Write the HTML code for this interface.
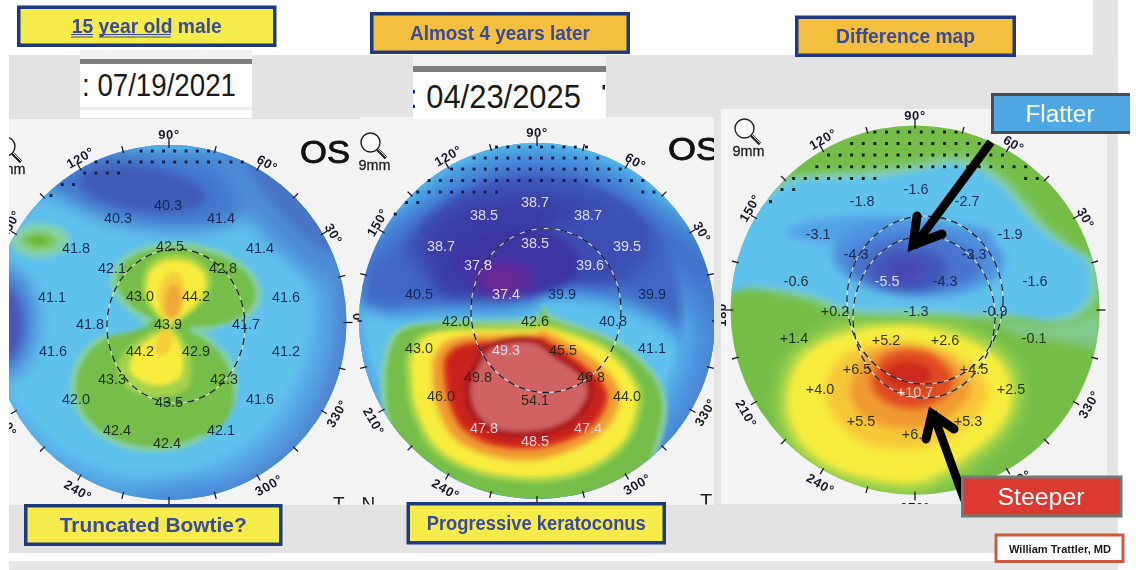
<!DOCTYPE html>
<html><head><meta charset="utf-8"><title>Topography</title>
<style>
html,body{margin:0;padding:0;background:#fff;}
body{width:1136px;height:570px;overflow:hidden;font-family:"Liberation Sans",sans-serif;}
svg{display:block;font-family:"Liberation Sans",sans-serif;}
</style></head><body>
<svg width="1136" height="570" viewBox="0 0 1136 570">
<rect x="0" y="0" width="1136" height="570" fill="#ffffff"/>
<rect x="9" y="55" width="1109" height="64" fill="#e3e3e3"/>
<rect x="1093" y="0" width="25" height="56" fill="#e4e4e4"/>
<rect x="9" y="108" width="1109" height="445" fill="#e3e3e3"/>
<rect x="9" y="561" width="1109" height="9" fill="#e6e6e6"/>
<rect x="9" y="119" width="705" height="386" fill="#f3f3f3"/>
<rect x="360" y="117" width="354" height="4" fill="#f3f3f3"/>
<rect x="721" y="109" width="386" height="395" fill="#f3f3f3"/>
<rect x="80" y="50" width="172" height="68" fill="#ffffff"/>
<rect x="80" y="50" width="172" height="9" fill="#f1f1f1"/>
<rect x="80" y="59" width="172" height="5" fill="#7d7d7d"/>
<rect x="80" y="107" width="172" height="3" fill="#eeeeee"/>
<text x="82" y="96.5" font-size="28.5" fill="#1a1a1a" textLength="154" lengthAdjust="spacingAndGlyphs" transform="translate(0,96.5) scale(1,1.1) translate(0,-96.5)">: 07/19/2021</text>
<rect x="413" y="54" width="193" height="65" fill="#ffffff"/>
<rect x="413" y="54" width="193" height="12" fill="#f1f1f1"/>
<rect x="413" y="66" width="193" height="6" fill="#7d7d7d"/>
<clipPath id="cd2"><rect x="413" y="54" width="193" height="65"/></clipPath>
<g clip-path="url(#cd2)"><text x="409" y="108" font-size="31" fill="#1a1a1a" textLength="172" lengthAdjust="spacingAndGlyphs" transform="translate(0,108) scale(1,1.1) translate(0,-108)">: 04/23/2025</text><rect x="602.5" y="85" width="2.5" height="4.5" fill="#222"/></g>
<defs><clipPath id="p1"><rect x="9" y="119" width="352" height="386"/></clipPath><clipPath id="c1"><circle cx="169" cy="322.5" r="177.5"/></clipPath><radialGradient id="rg1" gradientUnits="userSpaceOnUse" cx="150" cy="316" r="205"><stop offset="0.72" stop-color="#5fc2ec" stop-opacity="0"/><stop offset="0.80" stop-color="#5ab2e8"/><stop offset="0.87" stop-color="#549ee0"/><stop offset="0.93" stop-color="#508cd6"/><stop offset="1" stop-color="#4c7ccc"/></radialGradient><filter id="b2" x="-10%" y="-10%" width="120%" height="120%"><feGaussianBlur stdDeviation="2.2"/></filter><filter id="b5" x="-20%" y="-20%" width="140%" height="140%"><feGaussianBlur stdDeviation="5"/></filter><filter id="b9" x="-30%" y="-30%" width="160%" height="160%"><feGaussianBlur stdDeviation="9"/></filter></defs><g clip-path="url(#p1)"><g clip-path="url(#c1)"><rect x="-20" y="130" width="400" height="390" fill="#5fc2ec"/><rect x="-60" y="100" width="460" height="450" fill="url(#rg1)"/><g filter="url(#b9)"><ellipse cx="165" cy="158" rx="170" ry="52" fill="#4a92dc"/><ellipse cx="152" cy="190" rx="100" ry="38" fill="#4478cc" transform="rotate(8 152 190)"/><ellipse cx="283" cy="212" rx="30" ry="88" fill="#4e8cd6" transform="rotate(-42 283 212)"/><ellipse cx="2" cy="322" rx="34" ry="56" fill="#4a7ed2"/><ellipse cx="215" cy="500" rx="80" ry="14" fill="#4a8ad8"/></g><g filter="url(#b5)"><ellipse cx="143" cy="189" rx="64" ry="22" fill="#3f5cb6" transform="rotate(8 143 189)"/><ellipse cx="2" cy="324" rx="21" ry="38" fill="#4a56b6"/><ellipse cx="293" cy="201" rx="17" ry="72" fill="#4a74c6" transform="rotate(-42 293 201)"/><ellipse cx="169" cy="146" rx="60" ry="5" fill="#56b8e6"/></g><g filter="url(#b2)"><ellipse cx="40" cy="240.5" rx="31" ry="18" fill="#7ccfc0"/><ellipse cx="40" cy="240.5" rx="24" ry="13" fill="#8ad09a"/><ellipse cx="39" cy="240.5" rx="17" ry="8.5" fill="#7cc45c"/><ellipse cx="38" cy="240.5" rx="9" ry="4.5" fill="#6ab83c"/><ellipse cx="186" cy="287" rx="76" ry="44" fill="#86d0a6" transform="rotate(8 186 287)"/><ellipse cx="186" cy="287" rx="70" ry="39" fill="#74be48" transform="rotate(8 186 287)"/><ellipse cx="154" cy="386" rx="84" ry="66" fill="#86d0a6"/><ellipse cx="154" cy="386" rx="78" ry="61" fill="#74be48"/><ellipse cx="200" cy="395" rx="34" ry="40" fill="#74be48"/><path d="M212 332 C220 324 242 322 262 318 L262 345 C242 345 226 350 216 346 Z" fill="#5fc2ec"/><path d="M100 318 C120 318 138 322 148 326 C136 330 118 334 100 336 Z" fill="#5fc2ec"/><ellipse cx="170" cy="326" rx="22" ry="10" fill="#74be48"/><path d="M170 327 C146 312 136 290 146 268 C158 248 200 250 210 274 C216 296 194 314 170 327 Z" fill="#a8d444"/><path d="M168 324 C190 338 196 366 189 386 C174 404 126 400 118 374 C114 350 142 336 168 324 Z" fill="#a4d24c"/><path d="M170 324 C150 310 142 290 150 272 C160 255 196 256 205 276 C210 296 190 312 170 324 Z" fill="#f6ec3c"/><path d="M168 328 C182 340 186 362 181 376 C171 390 137 388 130 370 C127 352 148 339 168 328 Z" fill="#f6ec3c"/><ellipse cx="172" cy="296" rx="13" ry="24" fill="#f6cc3a" transform="rotate(5 172 296)"/><ellipse cx="173" cy="302" rx="8" ry="17" fill="#f0a838" transform="rotate(5 173 302)"/><ellipse cx="164" cy="343" rx="8" ry="14" fill="#f6cf3a" transform="rotate(20 164 343)"/></g></g><ellipse cx="176" cy="326" rx="69" ry="77" fill="none" stroke="#e8eeb0" stroke-width="1.1" opacity="0.85"/><ellipse cx="176" cy="326" rx="69" ry="77" fill="none" stroke="#16223a" stroke-width="1.3" stroke-dasharray="7 5"/><g fill="#141a4a"><rect x="139.6" y="149.6" width="2.9" height="2.9"/><rect x="150.8" y="149.6" width="2.9" height="2.9"/><rect x="162.1" y="149.6" width="2.9" height="2.9"/><rect x="173.3" y="149.6" width="2.9" height="2.9"/><rect x="184.6" y="149.6" width="2.9" height="2.9"/><rect x="195.8" y="149.6" width="2.9" height="2.9"/><rect x="207.1" y="149.6" width="2.9" height="2.9"/><rect x="94.5" y="160.6" width="2.9" height="2.9"/><rect x="105.8" y="160.6" width="2.9" height="2.9"/><rect x="117.0" y="160.6" width="2.9" height="2.9"/><rect x="128.3" y="160.6" width="2.9" height="2.9"/><rect x="139.6" y="160.6" width="2.9" height="2.9"/><rect x="150.8" y="160.6" width="2.9" height="2.9"/><rect x="162.1" y="160.6" width="2.9" height="2.9"/><rect x="173.3" y="160.6" width="2.9" height="2.9"/><rect x="184.6" y="160.6" width="2.9" height="2.9"/><rect x="195.8" y="160.6" width="2.9" height="2.9"/><rect x="207.1" y="160.6" width="2.9" height="2.9"/><rect x="218.3" y="160.6" width="2.9" height="2.9"/><rect x="229.6" y="160.6" width="2.9" height="2.9"/><rect x="240.8" y="160.6" width="2.9" height="2.9"/><rect x="83.3" y="171.6" width="2.9" height="2.9"/><rect x="94.5" y="171.6" width="2.9" height="2.9"/><rect x="105.8" y="171.6" width="2.9" height="2.9"/><rect x="117.0" y="171.6" width="2.9" height="2.9"/><rect x="60.8" y="183.1" width="2.9" height="2.9"/><rect x="72.0" y="183.1" width="2.9" height="2.9"/><rect x="49.5" y="194.1" width="2.9" height="2.9"/></g><g stroke="#1a1a2a" stroke-width="1.3"><line x1="343.5" y1="322.5" x2="352.5" y2="322.5"/><line x1="338.5" y1="277.1" x2="345.3" y2="275.3"/><line x1="321.0" y1="234.8" x2="327.0" y2="231.2"/><line x1="293.1" y1="198.4" x2="298.0" y2="193.5"/><line x1="256.8" y1="170.5" x2="260.2" y2="164.5"/><line x1="214.4" y1="153.0" x2="216.2" y2="146.2"/><line x1="169.0" y1="148.0" x2="169.0" y2="139.0"/><line x1="123.6" y1="153.0" x2="121.8" y2="146.2"/><line x1="81.3" y1="170.5" x2="77.8" y2="164.5"/><line x1="44.9" y1="198.4" x2="40.0" y2="193.5"/><line x1="17.0" y1="234.8" x2="11.0" y2="231.2"/><line x1="-0.5" y1="277.1" x2="-7.3" y2="275.3"/><line x1="-5.5" y1="322.5" x2="-14.5" y2="322.5"/><line x1="-0.5" y1="367.9" x2="-7.3" y2="369.7"/><line x1="17.0" y1="410.2" x2="11.0" y2="413.8"/><line x1="44.9" y1="446.6" x2="40.0" y2="451.5"/><line x1="81.2" y1="474.5" x2="77.7" y2="480.5"/><line x1="123.6" y1="492.0" x2="121.8" y2="498.8"/><line x1="169.0" y1="497.0" x2="169.0" y2="506.0"/><line x1="214.4" y1="492.0" x2="216.2" y2="498.8"/><line x1="256.8" y1="474.5" x2="260.2" y2="480.5"/><line x1="293.1" y1="446.6" x2="298.0" y2="451.5"/><line x1="321.0" y1="410.3" x2="327.0" y2="413.8"/><line x1="338.5" y1="367.9" x2="345.3" y2="369.7"/></g><g font-size="13" fill="#1a1a2a" text-anchor="middle" font-weight="bold" letter-spacing="0.6"><text x="333.6" y="238.3" transform="rotate(60 333.6 233.8)">30°</text><text x="267.3" y="167.9" transform="rotate(30 267.3 163.4)">60°</text><text x="169.0" y="139.0" transform="rotate(0 169.0 134.5)">90°</text><text x="80.3" y="162.4" transform="rotate(-30 80.3 157.9)">120°</text><text x="9.9" y="228.7" transform="rotate(-60 9.9 224.2)">150°</text><text x="6.1" y="426.8" transform="rotate(60 6.1 422.3)">210°</text><text x="77.9" y="494.9" transform="rotate(30 77.9 490.4)">240°</text><text x="268.8" y="489.9" transform="rotate(-30 268.8 485.4)">300°</text><text x="336.9" y="418.1" transform="rotate(-60 336.9 413.6)">330°</text></g><g font-size="14.4" text-anchor="middle" opacity="0.9"><text x="118" y="223.4" fill="#10204a">40.3</text><text x="168" y="210.4" fill="#10204a">40.3</text><text x="221" y="223.4" fill="#10204a">41.4</text><text x="76" y="253.4" fill="#10204a">41.8</text><text x="170" y="251.4" fill="#1a2410">42.5</text><text x="260" y="253.4" fill="#10204a">41.4</text><text x="112" y="273.4" fill="#10204a">42.1</text><text x="223" y="273.4" fill="#1a2410">42.8</text><text x="52" y="302.4" fill="#10204a">41.1</text><text x="140" y="301.4" fill="#1a2410">43.0</text><text x="196" y="301.4" fill="#1a2410">44.2</text><text x="286" y="302.4" fill="#10204a">41.6</text><text x="90" y="329.4" fill="#10204a">41.8</text><text x="168" y="329.4" fill="#1a2410">43.9</text><text x="246" y="329.4" fill="#10204a">41.7</text><text x="53" y="356.4" fill="#10204a">41.6</text><text x="140" y="356.4" fill="#1a2410">44.2</text><text x="196" y="356.4" fill="#1a2410">42.9</text><text x="286" y="356.4" fill="#10204a">41.2</text><text x="112" y="384.4" fill="#1a2410">43.3</text><text x="224" y="384.4" fill="#1a2410">42.3</text><text x="76" y="404.4" fill="#10204a">42.0</text><text x="169" y="407.4" fill="#1a2410">43.5</text><text x="260" y="404.4" fill="#10204a">41.6</text><text x="117" y="435.4" fill="#1a2410">42.4</text><text x="167" y="448.4" fill="#1a2410">42.4</text><text x="221" y="435.4" fill="#10204a">42.1</text></g><g fill="none" stroke="#222" stroke-width="1.4"><circle cx="5.5" cy="146.5" r="9.5" fill="#fbfbfb"/><path d="M12.5 153.5L21 162" stroke-width="3.2"/><path d="M13 153L21.5 161.5" stroke="#ddd" stroke-width="1"/></g><text x="9.5" y="173.5" font-size="15" fill="#222" stroke="#222" stroke-width="0.3" text-anchor="middle" textLength="32" lengthAdjust="spacingAndGlyphs">9mm</text><!--zero--></g><text x="357" y="321" font-size="13" font-weight="bold" fill="#1a1a2a" text-anchor="middle" transform="rotate(-90 357 316.5)">0</text><text x="300" y="163" font-size="31" fill="#111" stroke="#111" stroke-width="0.9" textLength="50" lengthAdjust="spacingAndGlyphs">OS</text><clipPath id="ptn"><rect x="9" y="119" width="705" height="385.5"/></clipPath><g clip-path="url(#ptn)"><text x="333" y="510" font-size="19" fill="#222">T</text><text x="361.5" y="510" font-size="19" fill="#222">N</text><text x="700" y="507.6" font-size="20" fill="#222">T</text></g><defs><clipPath id="p2"><rect x="357.5" y="117" width="356.5" height="388"/></clipPath><clipPath id="c2"><circle cx="537" cy="321" r="178"/></clipPath><radialGradient id="rg2" gradientUnits="userSpaceOnUse" cx="537" cy="325" r="184"><stop offset="0.80" stop-color="#4684d6" stop-opacity="0"/><stop offset="0.88" stop-color="#4684d6"/><stop offset="0.94" stop-color="#4a9ce0"/><stop offset="0.975" stop-color="#50b0e6"/><stop offset="1" stop-color="#5cc6e2"/></radialGradient><radialGradient id="rg2b" gradientUnits="userSpaceOnUse" cx="522" cy="318" r="196"><stop offset="0.78" stop-color="#54a8e6" stop-opacity="0"/><stop offset="0.84" stop-color="#54a8e6"/><stop offset="0.91" stop-color="#4c94de"/><stop offset="1" stop-color="#4a84d4"/></radialGradient><linearGradient id="lg2a" x1="0" y1="0" x2="0" y2="1"><stop offset="0.30" stop-color="#fff"/><stop offset="0.58" stop-color="#000"/></linearGradient><linearGradient id="lg2b" x1="0" y1="0" x2="0" y2="1"><stop offset="0" stop-color="#000"/><stop offset="0.35" stop-color="#fff"/></linearGradient><mask id="m2a" maskUnits="userSpaceOnUse" x="340" y="120" width="400" height="260"><rect x="340" y="120" width="400" height="260" fill="url(#lg2a)"/></mask><mask id="m2b" maskUnits="userSpaceOnUse" x="340" y="240" width="400" height="280"><rect x="340" y="240" width="400" height="280" fill="url(#lg2b)"/></mask><filter id="b3" x="-20%" y="-20%" width="140%" height="140%"><feGaussianBlur stdDeviation="3.2"/></filter><filter id="b7" x="-20%" y="-20%" width="140%" height="140%"><feGaussianBlur stdDeviation="7"/></filter><filter id="b1" x="-10%" y="-10%" width="120%" height="120%"><feGaussianBlur stdDeviation="1.5"/></filter></defs><g clip-path="url(#p2)"><g clip-path="url(#c2)"><rect x="340" y="120" width="400" height="400" fill="#4068c4"/><g filter="url(#b9)"><ellipse cx="530" cy="240" rx="125" ry="62" fill="#3c50b4"/><ellipse cx="524" cy="248" rx="100" ry="52" fill="#3a3ea6"/><ellipse cx="585" cy="245" rx="40" ry="32" fill="#3d50b4"/><ellipse cx="470" cy="270" rx="40" ry="40" fill="#3a3ea6"/></g><rect x="340" y="120" width="400" height="260" fill="url(#rg2)" mask="url(#m2a)"/><g filter="url(#b7)"><path d="M325.7 318.9 C335.9 280.6 368.3 310.9 387.4 308.1 C406.5 305.4 422.3 303.5 440.3 302.3 C458.3 301.0 480.6 301.8 495.6 300.6 C510.5 299.4 520.1 297.7 530.0 295.0 C539.9 292.3 541.8 285.0 554.9 284.3 C567.9 283.5 592.1 286.8 608.3 290.3 C624.4 293.8 638.4 298.4 651.6 305.0 C664.9 311.6 678.3 318.9 687.9 330.1 C697.5 341.2 705.8 353.2 709.5 371.9 C713.1 390.5 712.6 414.0 709.9 441.9 C707.1 469.9 756.9 523.4 692.9 539.5 C628.9 555.5 387.4 574.8 326.2 538.0 C264.9 501.3 315.4 357.2 325.7 318.9Z" fill="#4684d6"/><path d="M333.7 322.9 C343.8 286.3 375.8 315.9 394.5 313.7 C413.2 311.4 428.5 310.2 445.8 309.4 C463.0 308.7 484.0 310.2 498.1 309.3 C512.1 308.4 520.8 306.7 530.0 304.0 C539.2 301.3 541.0 294.1 553.3 293.1 C565.5 292.1 588.3 295.0 603.6 298.0 C618.9 301.0 632.3 305.1 645.1 311.2 C657.8 317.3 670.8 324.0 680.1 334.5 C689.4 345.0 697.3 356.5 700.8 374.2 C704.2 391.9 703.5 414.2 700.9 440.8 C698.4 467.5 746.8 518.7 685.6 534.1 C624.5 549.6 392.6 568.7 333.9 533.5 C275.3 498.3 323.6 359.5 333.7 322.9Z" fill="#4c9ce2"/><path d="M340.0 326.0 C350.0 290.7 381.7 319.8 400.0 318.0 C418.3 316.2 433.3 315.3 450.0 315.0 C466.7 314.7 486.7 316.7 500.0 316.0 C513.3 315.3 521.3 313.7 530.0 311.0 C538.7 308.3 540.3 301.2 552.0 300.0 C563.7 298.8 585.3 301.3 600.0 304.0 C614.7 306.7 627.7 310.3 640.0 316.0 C652.3 321.7 665.0 328.0 674.0 338.0 C683.0 348.0 690.7 359.0 694.0 376.0 C697.3 393.0 696.3 414.3 694.0 440.0 C691.7 465.7 739.0 515.0 680.0 530.0 C621.0 545.0 396.7 564.0 340.0 530.0 C283.3 496.0 330.0 361.3 340.0 326.0Z" fill="#5fc2ec"/></g><rect x="340" y="240" width="400" height="280" fill="url(#rg2b)" mask="url(#m2b)"/><g filter="url(#b5)"><ellipse cx="516" cy="262" rx="64" ry="34" fill="#3e36a2"/><ellipse cx="503" cy="279" rx="30" ry="19" fill="#5c2a9a"/><ellipse cx="500" cy="279" rx="16" ry="10" fill="#6c2a92"/></g><g filter="url(#b2)"><path d="M383.1 358.9 C385.7 348.0 387.7 336.2 396.5 329.9 C405.3 323.6 413.8 323.0 436.0 321.0 C458.3 319.0 512.0 320.8 530.0 318.0 C548.0 315.2 539.9 304.5 543.8 304.1 C547.7 303.6 541.2 309.2 553.5 315.2 C565.7 321.3 600.2 330.6 617.3 340.5 C634.4 350.3 647.7 363.1 656.0 374.3 C664.2 385.5 666.4 395.5 667.0 407.6 C667.6 419.7 663.4 434.4 659.6 447.0 C655.8 459.5 653.4 471.6 643.9 483.1 C634.4 494.7 620.3 509.7 602.5 516.3 C584.7 523.0 559.7 523.0 537.3 523.0 C514.8 523.0 487.9 521.1 467.8 516.5 C447.6 511.9 429.2 507.8 416.3 495.4 C403.4 482.9 396.2 458.4 390.3 441.7 C384.4 425.0 382.2 408.9 381.0 395.1 C379.8 381.3 380.5 369.8 383.1 358.9Z" fill="#8ad0a0"/><path d="M388.0 360.0 C390.5 349.5 392.3 338.0 401.0 332.0 C409.7 326.0 418.5 325.5 440.0 324.0 C461.5 322.5 512.8 325.5 530.0 323.0 C547.2 320.5 539.3 309.5 543.0 309.0 C546.7 308.5 540.3 314.3 552.0 320.0 C563.7 325.7 596.5 333.8 613.0 343.0 C629.5 352.2 642.8 364.3 651.0 375.0 C659.2 385.7 661.3 395.3 662.0 407.0 C662.7 418.7 658.7 432.8 655.0 445.0 C651.3 457.2 649.2 468.8 640.0 480.0 C630.8 491.2 617.2 505.7 600.0 512.0 C582.8 518.3 558.7 518.0 537.0 518.0 C515.3 518.0 489.5 516.3 470.0 512.0 C450.5 507.7 432.5 504.0 420.0 492.0 C407.5 480.0 400.7 456.2 395.0 440.0 C389.3 423.8 387.2 408.3 386.0 395.0 C384.8 381.7 385.5 370.5 388.0 360.0Z" fill="#74be48"/><path d="M408.3 352.1 C412.8 344.2 412.7 334.4 432.9 329.8 C453.2 325.1 510.6 325.1 530.0 324.0 C549.4 322.9 537.0 319.8 549.6 323.2 C562.3 326.7 591.4 335.3 606.1 344.8 C620.8 354.4 632.0 369.9 638.0 380.4 C643.9 390.9 643.7 397.1 641.9 407.8 C640.2 418.6 636.2 434.0 627.3 444.9 C618.4 455.7 603.5 466.5 588.5 472.9 C573.6 479.2 556.1 482.6 537.5 483.0 C518.9 483.3 494.2 480.4 476.8 475.1 C459.3 469.7 443.8 461.8 432.9 451.1 C421.9 440.4 415.5 423.2 411.1 410.9 C406.6 398.6 406.5 387.1 406.0 377.3 C405.6 367.5 403.8 360.1 408.3 352.1Z" fill="#a6d448"/><path d="M414.0 354.0 C418.3 346.5 418.7 337.0 438.0 333.0 C457.3 329.0 511.7 330.7 530.0 330.0 C548.3 329.3 536.2 326.0 548.0 329.0 C559.8 332.0 587.0 339.3 601.0 348.0 C615.0 356.7 626.2 371.2 632.0 381.0 C637.8 390.8 637.7 396.8 636.0 407.0 C634.3 417.2 630.5 431.8 622.0 442.0 C613.5 452.2 599.2 462.2 585.0 468.0 C570.8 473.8 554.5 476.7 537.0 477.0 C519.5 477.3 496.5 474.8 480.0 470.0 C463.5 465.2 448.5 458.0 438.0 448.0 C427.5 438.0 421.3 421.7 417.0 410.0 C412.7 398.3 412.5 387.3 412.0 378.0 C411.5 368.7 409.7 361.5 414.0 354.0Z" fill="#f6ec3c"/><path d="M433.3 352.5 C437.8 346.2 440.7 339.1 456.8 335.6 C473.0 332.0 515.0 332.1 530.0 331.0 C545.0 329.9 536.5 325.0 547.0 329.1 C557.6 333.3 581.3 346.6 593.5 356.0 C605.6 365.5 616.1 375.5 620.0 385.7 C623.9 395.9 621.7 407.5 616.8 417.1 C612.0 426.8 603.8 436.1 591.1 443.6 C578.3 451.1 557.5 459.5 540.6 462.0 C523.7 464.4 504.8 462.2 489.9 458.4 C475.1 454.6 460.9 447.9 451.6 439.1 C442.3 430.2 437.6 416.5 434.0 405.6 C430.5 394.6 430.2 382.1 430.1 373.3 C429.9 364.4 428.8 358.8 433.3 352.5Z" fill="#f8cc38"/><path d="M437.0 354.0 C441.3 348.0 444.5 341.2 460.0 338.0 C475.5 334.8 515.7 335.8 530.0 335.0 C544.3 334.2 536.0 329.2 546.0 333.0 C556.0 336.8 578.3 349.2 590.0 358.0 C601.7 366.8 612.2 376.3 616.0 386.0 C619.8 395.7 617.7 406.8 613.0 416.0 C608.3 425.2 600.2 434.0 588.0 441.0 C575.8 448.0 556.0 455.7 540.0 458.0 C524.0 460.3 506.2 458.5 492.0 455.0 C477.8 451.5 464.0 445.3 455.0 437.0 C446.0 428.7 441.5 415.5 438.0 405.0 C434.5 394.5 434.2 382.5 434.0 374.0 C433.8 365.5 432.7 360.0 437.0 354.0Z" fill="#f09a30"/><path d="M446.0 354.0 C450.2 349.0 454.0 344.3 468.0 342.0 C482.0 339.7 517.5 340.8 530.0 340.0 C542.5 339.2 534.3 333.3 543.0 337.0 C551.7 340.7 571.3 353.5 582.0 362.0 C592.7 370.5 603.3 379.5 607.0 388.0 C610.7 396.5 608.2 405.2 604.0 413.0 C599.8 420.8 592.7 429.0 582.0 435.0 C571.3 441.0 554.5 447.0 540.0 449.0 C525.5 451.0 508.0 450.2 495.0 447.0 C482.0 443.8 470.0 437.8 462.0 430.0 C454.0 422.2 450.2 409.7 447.0 400.0 C443.8 390.3 443.2 379.7 443.0 372.0 C442.8 364.3 441.8 359.0 446.0 354.0Z" fill="#de3c20"/><path d="M450.6 356.1 C454.6 351.4 458.7 347.0 471.9 345.1 C485.1 343.3 518.3 345.5 530.0 345.0 C541.7 344.5 533.9 338.6 541.8 341.9 C549.8 345.1 567.6 356.8 577.7 364.5 C587.7 372.2 598.4 380.4 602.0 388.3 C605.6 396.1 603.2 404.4 599.2 411.6 C595.2 418.9 588.2 426.4 578.1 431.8 C568.1 437.2 552.5 442.2 539.1 444.1 C525.7 445.9 509.8 445.5 497.7 442.8 C485.6 440.0 474.0 434.8 466.4 427.6 C458.7 420.4 455.1 408.6 452.0 399.5 C448.9 390.4 448.1 380.4 447.9 373.1 C447.6 365.9 446.6 360.7 450.6 356.1Z" fill="#c8201a"/><path d="M488.5 342.6 C498.0 338.4 519.2 334.2 531.1 336.0 C543.1 337.8 550.7 346.8 560.3 353.5 C569.9 360.2 583.3 368.8 588.8 376.2 C594.2 383.5 595.3 389.8 593.0 397.6 C590.6 405.4 583.9 416.4 574.8 423.0 C565.6 429.5 551.6 435.0 538.3 436.9 C524.9 438.8 505.8 437.9 494.5 434.4 C483.2 430.8 475.6 423.4 470.5 415.6 C465.4 407.8 463.5 396.5 464.0 387.5 C464.6 378.5 469.8 369.2 473.8 361.7 C477.9 354.2 478.9 346.9 488.5 342.6Z" fill="#ae1c1e"/><path d="M493.0 348.0 C501.5 344.3 520.5 341.2 531.0 343.0 C541.5 344.8 547.5 353.2 556.0 359.0 C564.5 364.8 577.0 371.7 582.0 378.0 C587.0 384.3 588.2 390.2 586.0 397.0 C583.8 403.8 577.2 413.5 569.0 419.0 C560.8 424.5 548.7 428.3 537.0 430.0 C525.3 431.7 509.0 431.8 499.0 429.0 C489.0 426.2 481.7 419.8 477.0 413.0 C472.3 406.2 470.5 396.0 471.0 388.0 C471.5 380.0 476.3 371.7 480.0 365.0 C483.7 358.3 484.5 351.7 493.0 348.0Z" fill="#d06264"/></g></g><ellipse cx="546" cy="310.5" rx="75" ry="82" fill="none" stroke="#f0f0f0" stroke-width="1.1" opacity="0.85"/><ellipse cx="546" cy="310.5" rx="75" ry="82" fill="none" stroke="#16223a" stroke-width="1.3" stroke-dasharray="7 5"/><g fill="#141a4a"><rect x="495.1" y="145.6" width="2.9" height="2.9"/><rect x="506.3" y="145.6" width="2.9" height="2.9"/><rect x="517.5" y="145.6" width="2.9" height="2.9"/><rect x="528.8" y="145.6" width="2.9" height="2.9"/><rect x="540.0" y="145.6" width="2.9" height="2.9"/><rect x="551.3" y="145.6" width="2.9" height="2.9"/><rect x="562.5" y="145.6" width="2.9" height="2.9"/><rect x="573.8" y="145.6" width="2.9" height="2.9"/><rect x="585.0" y="145.6" width="2.9" height="2.9"/><rect x="472.6" y="156.6" width="2.9" height="2.9"/><rect x="483.8" y="156.6" width="2.9" height="2.9"/><rect x="495.1" y="156.6" width="2.9" height="2.9"/><rect x="506.3" y="156.6" width="2.9" height="2.9"/><rect x="517.5" y="156.6" width="2.9" height="2.9"/><rect x="528.8" y="156.6" width="2.9" height="2.9"/><rect x="540.0" y="156.6" width="2.9" height="2.9"/><rect x="551.3" y="156.6" width="2.9" height="2.9"/><rect x="562.5" y="156.6" width="2.9" height="2.9"/><rect x="573.8" y="156.6" width="2.9" height="2.9"/><rect x="585.0" y="156.6" width="2.9" height="2.9"/><rect x="596.3" y="156.6" width="2.9" height="2.9"/><rect x="450.1" y="167.6" width="2.9" height="2.9"/><rect x="461.3" y="167.6" width="2.9" height="2.9"/><rect x="472.6" y="167.6" width="2.9" height="2.9"/><rect x="483.8" y="167.6" width="2.9" height="2.9"/><rect x="495.1" y="167.6" width="2.9" height="2.9"/><rect x="506.3" y="167.6" width="2.9" height="2.9"/><rect x="517.5" y="167.6" width="2.9" height="2.9"/><rect x="528.8" y="167.6" width="2.9" height="2.9"/><rect x="540.0" y="167.6" width="2.9" height="2.9"/><rect x="551.3" y="167.6" width="2.9" height="2.9"/><rect x="562.5" y="167.6" width="2.9" height="2.9"/><rect x="573.8" y="167.6" width="2.9" height="2.9"/><rect x="585.0" y="167.6" width="2.9" height="2.9"/><rect x="596.3" y="167.6" width="2.9" height="2.9"/><rect x="607.5" y="167.6" width="2.9" height="2.9"/><rect x="618.8" y="167.6" width="2.9" height="2.9"/><rect x="427.6" y="179.1" width="2.9" height="2.9"/><rect x="438.8" y="179.1" width="2.9" height="2.9"/><rect x="450.1" y="179.1" width="2.9" height="2.9"/><rect x="461.3" y="179.1" width="2.9" height="2.9"/><rect x="472.6" y="179.1" width="2.9" height="2.9"/><rect x="483.8" y="179.1" width="2.9" height="2.9"/><rect x="495.1" y="179.1" width="2.9" height="2.9"/><rect x="506.3" y="179.1" width="2.9" height="2.9"/><rect x="517.5" y="179.1" width="2.9" height="2.9"/><rect x="528.8" y="179.1" width="2.9" height="2.9"/><rect x="540.0" y="179.1" width="2.9" height="2.9"/><rect x="551.3" y="179.1" width="2.9" height="2.9"/><rect x="562.5" y="179.1" width="2.9" height="2.9"/><rect x="573.8" y="179.1" width="2.9" height="2.9"/><rect x="585.0" y="179.1" width="2.9" height="2.9"/><rect x="596.3" y="179.1" width="2.9" height="2.9"/><rect x="607.5" y="179.1" width="2.9" height="2.9"/><rect x="618.8" y="179.1" width="2.9" height="2.9"/><rect x="630.0" y="179.1" width="2.9" height="2.9"/><rect x="641.3" y="179.1" width="2.9" height="2.9"/><rect x="416.3" y="190.6" width="2.9" height="2.9"/><rect x="427.6" y="190.6" width="2.9" height="2.9"/><rect x="438.8" y="190.6" width="2.9" height="2.9"/><rect x="450.1" y="190.6" width="2.9" height="2.9"/><rect x="461.3" y="190.6" width="2.9" height="2.9"/><rect x="472.6" y="190.6" width="2.9" height="2.9"/><rect x="483.8" y="190.6" width="2.9" height="2.9"/><rect x="495.1" y="190.6" width="2.9" height="2.9"/><rect x="641.3" y="190.6" width="2.9" height="2.9"/><rect x="652.5" y="190.6" width="2.9" height="2.9"/><rect x="405.1" y="201.1" width="2.9" height="2.9"/><rect x="416.3" y="201.1" width="2.9" height="2.9"/><rect x="393.8" y="212.6" width="2.9" height="2.9"/></g><g stroke="#1a1a2a" stroke-width="1.3"><line x1="712.0" y1="321.0" x2="721.0" y2="321.0"/><line x1="707.0" y1="275.4" x2="713.8" y2="273.6"/><line x1="689.4" y1="233.0" x2="695.5" y2="229.5"/><line x1="661.5" y1="196.5" x2="666.4" y2="191.6"/><line x1="625.0" y1="168.6" x2="628.5" y2="162.5"/><line x1="582.6" y1="151.0" x2="584.4" y2="144.2"/><line x1="537.0" y1="146.0" x2="537.0" y2="137.0"/><line x1="491.4" y1="151.0" x2="489.6" y2="144.2"/><line x1="449.0" y1="168.6" x2="445.5" y2="162.5"/><line x1="412.5" y1="196.5" x2="407.6" y2="191.6"/><line x1="384.6" y1="233.0" x2="378.5" y2="229.5"/><line x1="367.0" y1="275.4" x2="360.2" y2="273.6"/><line x1="362.0" y1="321.0" x2="353.0" y2="321.0"/><line x1="367.0" y1="366.6" x2="360.2" y2="368.4"/><line x1="384.6" y1="409.0" x2="378.5" y2="412.5"/><line x1="412.5" y1="445.5" x2="407.6" y2="450.4"/><line x1="449.0" y1="473.4" x2="445.5" y2="479.5"/><line x1="491.4" y1="491.0" x2="489.6" y2="497.8"/><line x1="537.0" y1="496.0" x2="537.0" y2="505.0"/><line x1="582.6" y1="491.0" x2="584.4" y2="497.8"/><line x1="625.0" y1="473.4" x2="628.5" y2="479.5"/><line x1="661.5" y1="445.5" x2="666.4" y2="450.4"/><line x1="689.4" y1="409.0" x2="695.5" y2="412.5"/><line x1="707.0" y1="366.6" x2="713.8" y2="368.4"/></g><g font-size="13" fill="#1a1a2a" text-anchor="middle" font-weight="bold" letter-spacing="0.6"><text x="702.1" y="236.6" transform="rotate(60 702.1 232.1)">30°</text><text x="635.5" y="166.0" transform="rotate(30 635.5 161.5)">60°</text><text x="537.0" y="137.0" transform="rotate(0 537.0 132.5)">90°</text><text x="448.1" y="160.4" transform="rotate(-30 448.1 155.9)">120°</text><text x="377.5" y="227.0" transform="rotate(-60 377.5 222.5)">150°</text><text x="373.7" y="425.6" transform="rotate(60 373.7 421.1)">210°</text><text x="445.6" y="493.8" transform="rotate(30 445.6 489.3)">240°</text><text x="637.1" y="488.8" transform="rotate(-30 637.1 484.3)">300°</text><text x="705.3" y="416.9" transform="rotate(-60 705.3 412.4)">330°</text></g><g font-size="14.4" text-anchor="middle" opacity="0.9"><text x="484" y="220.4" fill="#ece6f6">38.5</text><text x="535" y="207.4" fill="#ece6f6">38.7</text><text x="588" y="220.4" fill="#ece6f6">38.7</text><text x="441" y="251.4" fill="#ece6f6">38.7</text><text x="535" y="248.4" fill="#ece6f6">38.5</text><text x="627" y="251.4" fill="#ece6f6">39.5</text><text x="478" y="270.4" fill="#ece6f6">37.8</text><text x="590" y="270.4" fill="#ece6f6">39.6</text><text x="419" y="299.4" fill="#10204a">40.5</text><text x="506" y="299.4" fill="#ece6f6">37.4</text><text x="562" y="299.4" fill="#10204a">39.9</text><text x="652" y="299.4" fill="#10204a">39.9</text><text x="456" y="326.4" fill="#1a2410">42.0</text><text x="535" y="326.4" fill="#1a2410">42.6</text><text x="613" y="326.4" fill="#10204a">40.8</text><text x="419" y="353.4" fill="#1a2410">43.0</text><text x="506" y="355.4" fill="#ece6f6">49.3</text><text x="563" y="355.4" fill="#1a2410">45.5</text><text x="652" y="353.4" fill="#10204a">41.1</text><text x="478" y="382.4" fill="#1a2410">49.8</text><text x="591" y="382.4" fill="#1a2410">46.8</text><text x="441" y="401.4" fill="#1a2410">46.0</text><text x="535" y="405.4" fill="#1a2410">54.1</text><text x="627" y="401.4" fill="#1a2410">44.0</text><text x="484" y="433.4" fill="#ece6f6">47.8</text><text x="535" y="446.4" fill="#ece6f6">48.5</text><text x="588" y="433.4" fill="#ece6f6">47.4</text></g><g fill="none" stroke="#222" stroke-width="1.4"><circle cx="370.5" cy="142.5" r="9.5" fill="#fbfbfb"/><path d="M377.5 149.5L386 158" stroke-width="3.2"/><path d="M378 149L386.5 157.5" stroke="#ddd" stroke-width="1"/></g><text x="374.5" y="169.5" font-size="15" fill="#222" stroke="#222" stroke-width="0.3" text-anchor="middle" textLength="32" lengthAdjust="spacingAndGlyphs">9mm</text><text x="668" y="160" font-size="32" fill="#111" stroke="#111" stroke-width="0.9" textLength="52" lengthAdjust="spacingAndGlyphs">OS</text></g><defs><clipPath id="p3"><rect x="721" y="109" width="386" height="395"/></clipPath><clipPath id="c3"><circle cx="915" cy="310" r="184.5"/></clipPath></defs><g clip-path="url(#p3)"><g clip-path="url(#c3)"><rect x="720" y="110" width="400" height="400" fill="#74be48"/><g filter="url(#b3)"><path d="M688.1 228.9 C695.6 212.0 721.5 208.2 733.4 201.8 C745.3 195.5 750.9 195.1 759.4 190.6 C768.0 186.1 772.5 178.4 784.7 174.8 C796.9 171.3 817.0 171.0 832.7 169.3 C848.4 167.7 865.2 166.4 878.9 164.7 C892.5 163.0 901.9 160.9 914.6 159.0 C927.3 157.1 943.9 153.2 955.1 153.1 C966.2 153.0 974.1 155.9 981.4 158.5 C988.7 161.2 993.1 164.7 998.9 168.9 C1004.7 173.1 1011.0 178.3 1016.2 183.6 C1021.4 189.0 1024.2 193.9 1030.1 201.1 C1036.1 208.2 1044.0 219.0 1051.8 226.5 C1059.7 234.1 1069.5 240.9 1077.0 246.4 C1084.5 252.0 1092.7 253.9 1097.0 259.6 C1101.3 265.4 1102.6 273.4 1102.8 280.9 C1103.1 288.3 1103.0 297.4 1098.5 304.3 C1094.1 311.2 1083.7 318.7 1076.0 322.3 C1068.3 325.8 1061.6 325.9 1052.6 325.6 C1043.6 325.3 1034.6 321.0 1022.2 320.4 C1009.8 319.7 992.0 321.4 978.3 321.7 C964.5 322.0 952.9 322.2 939.6 322.1 C926.2 322.0 910.3 321.5 898.0 321.3 C885.7 321.2 876.7 322.5 865.7 321.2 C854.6 319.9 842.3 317.0 831.7 313.6 C821.1 310.1 816.0 304.5 802.1 300.6 C788.2 296.6 762.0 290.8 748.3 289.9 C734.7 288.9 730.3 292.6 720.3 294.8 C710.3 296.9 693.7 313.8 688.3 302.8 C682.9 291.8 680.5 245.7 688.1 228.9Z" fill="#78c46a"/><path d="M694.0 229.4 C701.5 213.1 727.4 209.5 739.2 203.4 C751.0 197.3 756.6 197.0 765.0 192.8 C773.5 188.5 777.9 181.1 789.9 177.9 C801.8 174.7 821.7 174.9 836.8 173.7 C852.0 172.4 868.0 171.8 880.9 170.4 C893.9 168.9 902.4 167.0 914.3 165.0 C926.2 163.0 942.0 158.8 952.5 158.6 C963.1 158.3 970.7 160.9 977.7 163.3 C984.7 165.7 988.9 169.0 994.4 173.0 C1000.0 176.9 1006.1 181.8 1011.1 186.8 C1016.1 191.9 1018.8 196.6 1024.6 203.3 C1030.4 210.1 1038.2 220.3 1045.9 227.5 C1053.7 234.7 1063.5 241.3 1071.0 246.6 C1078.5 251.9 1086.7 253.7 1091.0 259.3 C1095.3 264.9 1096.6 272.7 1096.9 279.9 C1097.2 287.2 1097.2 296.0 1092.8 302.7 C1088.4 309.3 1078.1 316.5 1070.5 319.9 C1062.9 323.3 1056.2 323.3 1047.3 322.8 C1038.4 322.4 1029.3 318.1 1017.1 317.2 C1004.9 316.3 987.4 317.5 974.1 317.3 C960.8 317.2 949.8 316.9 937.3 316.6 C924.8 316.2 910.4 315.5 899.0 315.4 C887.6 315.3 879.3 317.0 868.8 316.1 C858.4 315.2 846.6 312.8 836.3 309.8 C826.1 306.8 821.3 301.6 807.6 298.0 C793.9 294.5 767.7 289.2 754.2 288.4 C740.6 287.7 736.2 291.2 726.2 293.4 C716.2 295.5 699.5 312.0 694.2 301.4 C688.8 290.7 686.5 245.8 694.0 229.4Z" fill="#86cfa0"/><path d="M700.0 230.0 C707.5 214.2 733.2 210.8 745.0 205.0 C756.8 199.2 762.3 199.0 770.6 195.0 C778.9 191.0 783.3 183.8 795.0 181.0 C806.7 178.2 826.3 178.8 841.0 178.0 C855.7 177.2 870.8 177.2 883.0 176.0 C895.2 174.8 902.8 173.0 914.0 171.0 C925.2 169.0 940.0 164.5 950.0 164.0 C960.0 163.5 967.3 165.8 974.0 168.0 C980.7 170.2 984.7 173.3 990.0 177.0 C995.3 180.7 1001.2 185.2 1006.0 190.0 C1010.8 194.8 1013.3 199.2 1019.0 205.6 C1024.7 212.0 1032.3 221.7 1040.0 228.5 C1047.7 235.3 1057.5 241.6 1065.0 246.7 C1072.5 251.8 1080.7 253.6 1085.0 259.0 C1089.3 264.4 1090.7 272.0 1091.0 279.0 C1091.3 286.0 1091.3 294.6 1087.0 301.0 C1082.7 307.4 1072.5 314.3 1065.0 317.5 C1057.5 320.7 1050.8 320.6 1042.0 320.0 C1033.2 319.4 1024.0 315.2 1012.0 314.0 C1000.0 312.8 982.8 313.5 970.0 313.0 C957.2 312.5 946.7 311.6 935.0 311.0 C923.3 310.4 910.5 309.5 900.0 309.5 C889.5 309.5 881.8 311.6 872.0 311.0 C862.2 310.4 850.8 308.6 841.0 306.0 C831.2 303.4 826.5 298.7 813.0 295.5 C799.5 292.3 773.5 287.6 760.0 287.0 C746.5 286.4 742.0 289.8 732.0 292.0 C722.0 294.2 705.3 310.3 700.0 300.0 C694.7 289.7 692.5 245.8 700.0 230.0Z" fill="#5fc2ec"/></g><g filter="url(#b5)"><path d="M1000 320 C1030 326 1060 326 1100 312 L1104 350 C1070 340 1030 340 1000 328 Z" fill="#80c98c"/><ellipse cx="855" cy="229" rx="68" ry="13" fill="#52a0e4" transform="rotate(-3 855 229)"/><ellipse cx="918" cy="258" rx="86" ry="38" fill="#4e90de" transform="rotate(3 918 258)"/><ellipse cx="960" cy="238" rx="34" ry="12" fill="#4e90de"/><ellipse cx="914" cy="264" rx="66" ry="30" fill="#4a74ce"/><ellipse cx="908" cy="270" rx="40" ry="23" fill="#4356b8"/><ellipse cx="905" cy="271" rx="18" ry="11" fill="#4c46b0"/></g><g filter="url(#b3)"><path d="M769.1 406.6 C768.1 393.0 772.0 376.8 776.5 365.8 C781.0 354.8 785.9 348.3 796.0 340.5 C806.2 332.7 820.3 322.6 837.4 319.0 C854.5 315.4 879.0 319.0 898.6 319.0 C918.3 319.0 938.1 315.4 955.3 319.0 C972.5 322.6 990.0 332.6 1001.6 340.7 C1013.1 348.8 1020.0 356.8 1024.5 367.8 C1029.1 378.8 1030.9 394.9 1028.9 406.8 C1026.9 418.7 1019.8 429.6 1012.6 439.2 C1005.3 448.8 995.2 456.5 985.4 464.4 C975.6 472.3 965.5 480.7 953.9 486.8 C942.4 492.8 931.2 499.4 916.0 500.9 C900.7 502.4 879.3 499.3 862.6 495.5 C846.0 491.7 829.5 486.0 816.1 478.0 C802.8 470.0 790.4 459.4 782.5 447.5 C774.7 435.6 770.1 420.2 769.1 406.6Z" fill="#80c448"/><path d="M776.0 406.0 C775.1 393.1 778.9 377.7 783.3 367.3 C787.7 356.9 792.5 350.9 802.3 343.6 C812.1 336.4 825.9 327.8 842.0 324.0 C858.2 320.3 880.9 321.2 899.1 321.0 C917.4 320.8 935.5 319.1 951.5 322.9 C967.6 326.8 984.4 336.4 995.5 344.1 C1006.5 351.9 1013.3 359.0 1017.7 369.3 C1022.1 379.7 1023.9 394.9 1021.9 406.1 C1020.0 417.3 1013.1 427.6 1006.1 436.6 C999.1 445.5 989.3 452.5 980.1 459.8 C970.8 467.2 961.5 474.9 950.6 480.6 C939.8 486.3 929.5 492.5 915.2 493.9 C901.0 495.3 881.0 492.5 865.3 489.1 C849.7 485.6 834.0 480.6 821.2 473.2 C808.5 465.8 796.5 455.9 789.0 444.7 C781.4 433.5 777.0 418.9 776.0 406.0Z" fill="#94ce48"/><path d="M782.0 405.5 C781.1 393.2 784.9 378.5 789.1 368.7 C793.4 358.8 798.2 353.0 807.6 346.3 C817.1 339.6 830.7 332.4 846.0 328.5 C861.3 324.6 882.5 323.1 899.6 323.0 C916.6 322.9 933.1 323.9 948.3 328.0 C963.4 332.0 979.6 339.9 990.2 347.1 C1000.8 354.2 1007.6 360.9 1011.9 370.7 C1016.1 380.4 1017.9 395.0 1016.0 405.6 C1014.1 416.2 1007.3 425.9 1000.5 434.3 C993.8 442.7 984.3 449.1 975.5 455.9 C966.8 462.8 958.0 470.0 947.8 475.3 C937.7 480.6 928.0 486.6 914.6 488.0 C901.3 489.3 882.5 486.7 867.7 483.5 C852.8 480.4 837.8 476.0 825.6 469.1 C813.4 462.2 801.8 453.0 794.5 442.4 C787.2 431.8 782.9 417.8 782.0 405.5Z" fill="#b8da46"/><path d="M788.0 405.0 C787.2 393.3 790.8 379.3 795.0 370.0 C799.2 360.7 803.8 355.2 813.0 349.0 C822.2 342.8 835.5 336.8 850.0 333.0 C864.5 329.2 884.2 326.0 900.0 326.0 C915.8 326.0 930.8 329.0 945.0 333.0 C959.2 337.0 974.8 343.5 985.0 350.0 C995.2 356.5 1001.8 362.8 1006.0 372.0 C1010.2 381.2 1011.8 395.0 1010.0 405.0 C1008.2 415.0 1001.5 424.2 995.0 432.0 C988.5 439.8 979.3 445.7 971.0 452.0 C962.7 458.3 954.5 465.0 945.0 470.0 C935.5 475.0 926.5 480.7 914.0 482.0 C901.5 483.3 884.0 480.8 870.0 478.0 C856.0 475.2 841.7 471.3 830.0 465.0 C818.3 458.7 807.0 450.0 800.0 440.0 C793.0 430.0 788.8 416.7 788.0 405.0Z" fill="#f6ec3c"/><path d="M821.0 389.6 C821.4 379.5 828.0 367.0 834.6 359.3 C841.3 351.6 850.3 347.0 861.1 343.4 C871.9 339.9 885.7 337.7 899.4 338.0 C913.2 338.3 930.7 340.6 943.7 345.3 C956.7 349.9 969.7 358.0 977.6 365.8 C985.5 373.5 990.5 383.3 991.0 391.8 C991.5 400.3 986.9 408.8 980.8 416.6 C974.7 424.5 966.7 432.9 954.5 439.0 C942.2 445.0 922.8 452.1 907.2 453.0 C891.7 453.9 873.5 450.0 861.0 444.5 C848.5 439.0 839.0 429.1 832.3 419.9 C825.7 410.8 820.6 399.7 821.0 389.6Z" fill="#f8dc3a"/><path d="M827.0 390.0 C827.3 380.7 833.7 369.0 840.0 362.0 C846.3 355.0 855.0 351.0 865.0 348.0 C875.0 345.0 887.5 343.7 900.0 344.0 C912.5 344.3 928.0 346.0 940.0 350.0 C952.0 354.0 964.5 361.0 972.0 368.0 C979.5 375.0 984.5 384.2 985.0 392.0 C985.5 399.8 980.8 407.8 975.0 415.0 C969.2 422.2 961.3 429.7 950.0 435.0 C938.7 440.3 921.2 446.2 907.0 447.0 C892.8 447.8 876.5 444.8 865.0 440.0 C853.5 435.2 844.3 426.3 838.0 418.0 C831.7 409.7 826.7 399.3 827.0 390.0Z" fill="#f6c838"/><path d="M848.0 387.3 C849.2 380.0 853.0 367.9 857.9 361.1 C862.9 354.3 869.7 349.7 877.5 346.7 C885.4 343.6 894.0 342.1 905.0 343.0 C916.0 343.9 933.1 347.6 943.3 352.3 C953.6 357.0 961.7 364.8 966.7 371.2 C971.6 377.6 974.1 384.2 973.0 390.7 C971.8 397.2 966.4 404.3 959.8 410.3 C953.2 416.4 943.4 423.3 933.3 426.7 C923.2 430.2 910.5 431.9 899.2 430.9 C888.0 429.9 873.8 425.1 865.8 420.7 C857.8 416.4 854.0 410.5 851.1 404.9 C848.1 399.3 846.9 394.6 848.0 387.3Z" fill="#f4b034"/><path d="M853.0 388.0 C854.0 381.3 857.5 370.2 862.0 364.0 C866.5 357.8 872.8 353.7 880.0 351.0 C887.2 348.3 895.0 347.2 905.0 348.0 C915.0 348.8 930.5 351.8 940.0 356.0 C949.5 360.2 957.3 367.2 962.0 373.0 C966.7 378.8 969.2 385.0 968.0 391.0 C966.8 397.0 961.3 403.7 955.0 409.0 C948.7 414.3 939.2 420.2 930.0 423.0 C920.8 425.8 910.0 426.8 900.0 426.0 C890.0 425.2 877.3 421.7 870.0 418.0 C862.7 414.3 858.8 409.0 856.0 404.0 C853.2 399.0 852.0 394.7 853.0 388.0Z" fill="#f09a30"/><path d="M869.6 376.7 C871.1 370.7 875.5 360.7 881.4 355.7 C887.3 350.8 896.5 347.7 905.0 347.0 C913.5 346.3 924.8 348.0 932.7 351.8 C940.6 355.6 948.7 363.7 952.4 369.6 C956.1 375.5 956.9 381.8 954.9 387.2 C953.0 392.6 947.6 397.9 940.9 402.0 C934.2 406.0 923.8 411.0 914.5 411.3 C905.3 411.7 892.6 407.4 885.5 404.1 C878.4 400.8 874.7 396.0 872.0 391.5 C869.4 386.9 868.0 382.7 869.6 376.7Z" fill="#e87028"/><path d="M874.0 379.0 C875.2 373.7 878.8 364.5 884.0 360.0 C889.2 355.5 897.3 352.7 905.0 352.0 C912.7 351.3 922.8 352.7 930.0 356.0 C937.2 359.3 944.7 366.7 948.0 372.0 C951.3 377.3 952.0 383.2 950.0 388.0 C948.0 392.8 942.3 397.8 936.0 401.0 C929.7 404.2 919.7 406.8 912.0 407.0 C904.3 407.2 895.8 404.5 890.0 402.0 C884.2 399.5 879.7 395.8 877.0 392.0 C874.3 388.2 872.8 384.3 874.0 379.0Z" fill="#e04a22"/><ellipse cx="908" cy="375" rx="24" ry="13" fill="#cc2a1c"/></g></g><ellipse cx="925" cy="300" rx="78" ry="84" fill="none" stroke="#e8f4f8" stroke-width="1.1" opacity="0.85"/><ellipse cx="925" cy="300" rx="78" ry="84" fill="none" stroke="#16223a" stroke-width="1.3" stroke-dasharray="7 5"/><ellipse cx="924" cy="317" rx="71" ry="81" fill="none" stroke="#e8f4f8" stroke-width="1.1" opacity="0.85"/><ellipse cx="924" cy="317" rx="71" ry="81" fill="none" stroke="#16223a" stroke-width="1.3" stroke-dasharray="7 5"/><g fill="#0c1a0c"><rect x="873.4" y="130.6" width="2.9" height="2.9"/><rect x="885.0" y="130.6" width="2.9" height="2.9"/><rect x="896.6" y="130.6" width="2.9" height="2.9"/><rect x="908.2" y="130.6" width="2.9" height="2.9"/><rect x="919.8" y="130.6" width="2.9" height="2.9"/><rect x="931.4" y="130.6" width="2.9" height="2.9"/><rect x="943.0" y="130.6" width="2.9" height="2.9"/><rect x="954.6" y="130.6" width="2.9" height="2.9"/><rect x="850.2" y="142.0" width="2.9" height="2.9"/><rect x="861.8" y="142.0" width="2.9" height="2.9"/><rect x="873.4" y="142.0" width="2.9" height="2.9"/><rect x="885.0" y="142.0" width="2.9" height="2.9"/><rect x="896.6" y="142.0" width="2.9" height="2.9"/><rect x="908.2" y="142.0" width="2.9" height="2.9"/><rect x="919.8" y="142.0" width="2.9" height="2.9"/><rect x="931.4" y="142.0" width="2.9" height="2.9"/><rect x="943.0" y="142.0" width="2.9" height="2.9"/><rect x="954.6" y="142.0" width="2.9" height="2.9"/><rect x="966.2" y="142.0" width="2.9" height="2.9"/><rect x="977.8" y="142.0" width="2.9" height="2.9"/><rect x="827.0" y="153.6" width="2.9" height="2.9"/><rect x="838.6" y="153.6" width="2.9" height="2.9"/><rect x="850.2" y="153.6" width="2.9" height="2.9"/><rect x="861.8" y="153.6" width="2.9" height="2.9"/><rect x="873.4" y="153.6" width="2.9" height="2.9"/><rect x="885.0" y="153.6" width="2.9" height="2.9"/><rect x="896.6" y="153.6" width="2.9" height="2.9"/><rect x="908.2" y="153.6" width="2.9" height="2.9"/><rect x="919.8" y="153.6" width="2.9" height="2.9"/><rect x="931.4" y="153.6" width="2.9" height="2.9"/><rect x="943.0" y="153.6" width="2.9" height="2.9"/><rect x="954.6" y="153.6" width="2.9" height="2.9"/><rect x="966.2" y="153.6" width="2.9" height="2.9"/><rect x="977.8" y="153.6" width="2.9" height="2.9"/><rect x="989.4" y="153.6" width="2.9" height="2.9"/><rect x="1001.0" y="153.6" width="2.9" height="2.9"/><rect x="815.4" y="165.3" width="2.9" height="2.9"/><rect x="827.0" y="165.3" width="2.9" height="2.9"/><rect x="838.6" y="165.3" width="2.9" height="2.9"/><rect x="850.2" y="165.3" width="2.9" height="2.9"/><rect x="861.8" y="165.3" width="2.9" height="2.9"/><rect x="873.4" y="165.3" width="2.9" height="2.9"/><rect x="885.0" y="165.3" width="2.9" height="2.9"/><rect x="896.6" y="165.3" width="2.9" height="2.9"/><rect x="908.2" y="165.3" width="2.9" height="2.9"/><rect x="919.8" y="165.3" width="2.9" height="2.9"/><rect x="931.4" y="165.3" width="2.9" height="2.9"/><rect x="943.0" y="165.3" width="2.9" height="2.9"/><rect x="954.6" y="165.3" width="2.9" height="2.9"/><rect x="966.2" y="165.3" width="2.9" height="2.9"/><rect x="977.8" y="165.3" width="2.9" height="2.9"/><rect x="989.4" y="165.3" width="2.9" height="2.9"/><rect x="1001.0" y="165.3" width="2.9" height="2.9"/><rect x="1012.6" y="165.3" width="2.9" height="2.9"/><rect x="1024.2" y="165.3" width="2.9" height="2.9"/><rect x="792.2" y="177.0" width="2.9" height="2.9"/><rect x="803.8" y="177.0" width="2.9" height="2.9"/><rect x="815.4" y="177.0" width="2.9" height="2.9"/><rect x="827.0" y="177.0" width="2.9" height="2.9"/><rect x="838.6" y="177.0" width="2.9" height="2.9"/><rect x="850.2" y="177.0" width="2.9" height="2.9"/><rect x="861.8" y="177.0" width="2.9" height="2.9"/><rect x="873.4" y="177.0" width="2.9" height="2.9"/><rect x="1024.2" y="177.0" width="2.9" height="2.9"/><rect x="1035.8" y="177.0" width="2.9" height="2.9"/><rect x="780.6" y="188.1" width="2.9" height="2.9"/><rect x="792.2" y="188.1" width="2.9" height="2.9"/><rect x="769.0" y="200.2" width="2.9" height="2.9"/></g><g stroke="#1a1a2a" stroke-width="1.3"><line x1="1096.5" y1="310.0" x2="1105.5" y2="310.0"/><line x1="1091.3" y1="262.8" x2="1098.0" y2="261.0"/><line x1="1073.0" y1="218.8" x2="1079.1" y2="215.2"/><line x1="1044.0" y1="181.0" x2="1049.0" y2="176.0"/><line x1="1006.2" y1="152.0" x2="1009.8" y2="145.9"/><line x1="962.2" y1="133.7" x2="964.0" y2="127.0"/><line x1="915.0" y1="128.5" x2="915.0" y2="119.5"/><line x1="867.8" y1="133.7" x2="866.0" y2="127.0"/><line x1="823.8" y1="152.0" x2="820.2" y2="145.9"/><line x1="786.0" y1="181.0" x2="781.0" y2="176.0"/><line x1="757.0" y1="218.8" x2="750.9" y2="215.2"/><line x1="738.7" y1="262.8" x2="732.0" y2="261.0"/><line x1="733.5" y1="310.0" x2="724.5" y2="310.0"/><line x1="738.7" y1="357.2" x2="732.0" y2="359.0"/><line x1="757.0" y1="401.2" x2="750.9" y2="404.8"/><line x1="786.0" y1="439.0" x2="781.0" y2="444.0"/><line x1="823.7" y1="468.0" x2="820.2" y2="474.1"/><line x1="867.8" y1="486.3" x2="866.0" y2="493.0"/><line x1="915.0" y1="491.5" x2="915.0" y2="500.5"/><line x1="962.2" y1="486.3" x2="964.0" y2="493.0"/><line x1="1006.2" y1="468.0" x2="1009.8" y2="474.1"/><line x1="1044.0" y1="439.0" x2="1049.0" y2="444.0"/><line x1="1073.0" y1="401.3" x2="1079.1" y2="404.8"/><line x1="1091.3" y1="357.2" x2="1098.0" y2="359.0"/></g><g font-size="13" fill="#1a1a2a" text-anchor="middle" font-weight="bold" letter-spacing="0.6"><text x="1085.8" y="222.5" transform="rotate(60 1085.8 218.0)">30°</text><text x="915.0" y="119.5" transform="rotate(0 915.0 115.0)">90°</text><text x="823.0" y="143.7" transform="rotate(-30 823.0 139.2)">120°</text><text x="749.9" y="212.6" transform="rotate(-60 749.9 208.1)">150°</text><text x="746.2" y="418.0" transform="rotate(60 746.2 413.5)">210°</text><text x="820.5" y="488.5" transform="rotate(30 820.5 484.0)">240°</text><text x="1089.0" y="409.0" transform="rotate(-60 1089.0 404.5)">330°</text></g><g font-size="13" fill="#1a1a2a" text-anchor="middle" font-weight="bold" letter-spacing="0.6"><text x="1014" y="148.5" transform="rotate(30 1014 143.5)">60°</text><text x="1017" y="485" transform="rotate(-30 1017 480)">300°</text><text x="915" y="512">270°</text><text x="721.5" y="316" transform="rotate(-90 721.5 312)">180°</text></g><g font-size="14.4" text-anchor="middle" opacity="0.9"><text x="916" y="194.4" fill="#10204a">-1.6</text><text x="862" y="206.4" fill="#10204a">-1.8</text><text x="967" y="206.4" fill="#10204a">-2.7</text><text x="818" y="239.4" fill="#10204a">-3.1</text><text x="1010" y="239.4" fill="#10204a">-1.9</text><text x="856" y="259.4" fill="#10204a">-4.3</text><text x="974" y="259.4" fill="#10204a">-3.3</text><text x="796" y="286.4" fill="#1a2410">-0.6</text><text x="887" y="286.4" fill="#ece6f6">-5.5</text><text x="945" y="286.4" fill="#10204a">-4.3</text><text x="1035" y="286.4" fill="#10204a">-1.6</text><text x="835" y="316.4" fill="#1a2410">+0.2</text><text x="916" y="316.4" fill="#10204a">-1.3</text><text x="995" y="316.4" fill="#10204a">-0.9</text><text x="794" y="343.4" fill="#1a2410">+1.4</text><text x="886" y="345.4" fill="#1a2410">+5.2</text><text x="945" y="345.4" fill="#1a2410">+2.6</text><text x="1034" y="343.4" fill="#1a2410">-0.1</text><text x="857" y="374.4" fill="#1a2410">+6.5</text><text x="974" y="374.4" fill="#1a2410">+4.5</text><text x="820" y="394.4" fill="#1a2410">+4.0</text><text x="915" y="397.4" fill="#f8ece0">+10.7</text><text x="1011" y="394.4" fill="#1a2410">+2.5</text><text x="861" y="426.4" fill="#1a2410">+5.5</text><text x="916" y="439.4" fill="#1a2410">+6.2</text><text x="968" y="426.4" fill="#1a2410">+5.3</text></g><g fill="none" stroke="#222" stroke-width="1.4"><circle cx="744.5" cy="128.5" r="9.5" fill="#fbfbfb"/><path d="M751.5 135.5L760 144" stroke-width="3.2"/><path d="M752 135L760.5 143.5" stroke="#ddd" stroke-width="1"/></g><text x="748.5" y="155.5" font-size="15" fill="#222" stroke="#222" stroke-width="0.3" text-anchor="middle" textLength="32" lengthAdjust="spacingAndGlyphs">9mm</text></g><g stroke="#000" stroke-width="8.5" fill="none" stroke-linejoin="miter" stroke-linecap="butt"><path d="M991 142 L913.5 247"/><path d="M917 216 L913 245 L942 234" stroke-width="9" stroke-linecap="round"/><path d="M964.5 500 L932.5 412"/><path d="M926 439 L932 414 L954 429" stroke-width="9" stroke-linecap="round"/></g>
<rect x="18.75" y="7.25" width="256.0" height="38.0" fill="#f5ec4c" stroke="#1f3a7c" stroke-width="3.5"/><text x="146.75" y="33.075" font-size="19.5" font-weight="bold" fill="#3a4a9c" text-anchor="middle" textLength="150" lengthAdjust="spacingAndGlyphs" >15 year old male</text>
<g stroke="#3a4a9c" stroke-width="1"><path d="M71 34.5H93M71 37H93M99 34.5H171M99 37H171"/></g>
<rect x="371.75" y="13.75" width="256.5" height="38.5" fill="#f4bf3f" stroke="#1f3a7c" stroke-width="3.5"/><text x="500.0" y="39.825" font-size="19.5" font-weight="bold" fill="#3a4a9c" text-anchor="middle" textLength="180" lengthAdjust="spacingAndGlyphs" >Almost 4 years later</text>
<rect x="796.75" y="17.25" width="217.5" height="38.0" fill="#f4bf3f" stroke="#1f3a7c" stroke-width="3.5"/><text x="905.5" y="43.075" font-size="19.5" font-weight="bold" fill="#3a4a9c" text-anchor="middle" textLength="139" lengthAdjust="spacingAndGlyphs" >Difference map</text>
<rect x="25.75" y="505.75" width="255.0" height="38.5" fill="#f5ec4c" stroke="#1f3a7c" stroke-width="3.5"/><text x="153.25" y="532.35" font-size="21" font-weight="bold" fill="#3a4a9c" text-anchor="middle" textLength="187" lengthAdjust="spacingAndGlyphs" >Truncated Bowtie?</text>
<rect x="408.25" y="503.75" width="256.0" height="39.0" fill="#f5ec4c" stroke="#1f3a7c" stroke-width="3.5"/><text x="536.25" y="530.075" font-size="19.5" font-weight="bold" fill="#3a4a9c" text-anchor="middle" textLength="219" lengthAdjust="spacingAndGlyphs" >Progressive keratoconus</text>
<rect x="991" y="93" width="139" height="41" fill="#4c4a56"/>
<rect x="994" y="96" width="136" height="35" fill="#4fa7e2"/>
<text x="1060" y="121.5" font-size="23.3" fill="#ffffff" text-anchor="middle" textLength="69" lengthAdjust="spacingAndGlyphs">Flatter</text>
<rect x="961" y="475.5" width="161.5" height="42" fill="#6b7b75"/>
<rect x="964" y="478.5" width="155.5" height="36" fill="#dc3a30"/>
<text x="1041" y="504.8" font-size="23.7" fill="#ffffff" text-anchor="middle" textLength="87" lengthAdjust="spacingAndGlyphs">Steeper</text>
<rect x="996" y="535" width="127" height="26.5" fill="#ffffff" stroke="#cc5a40" stroke-width="3"/>
<text x="1060" y="552.5" font-size="11.5" font-weight="bold" fill="#1a1a1a" text-anchor="middle" textLength="102" lengthAdjust="spacingAndGlyphs">William Trattler, MD</text>
</svg>
</body></html>
